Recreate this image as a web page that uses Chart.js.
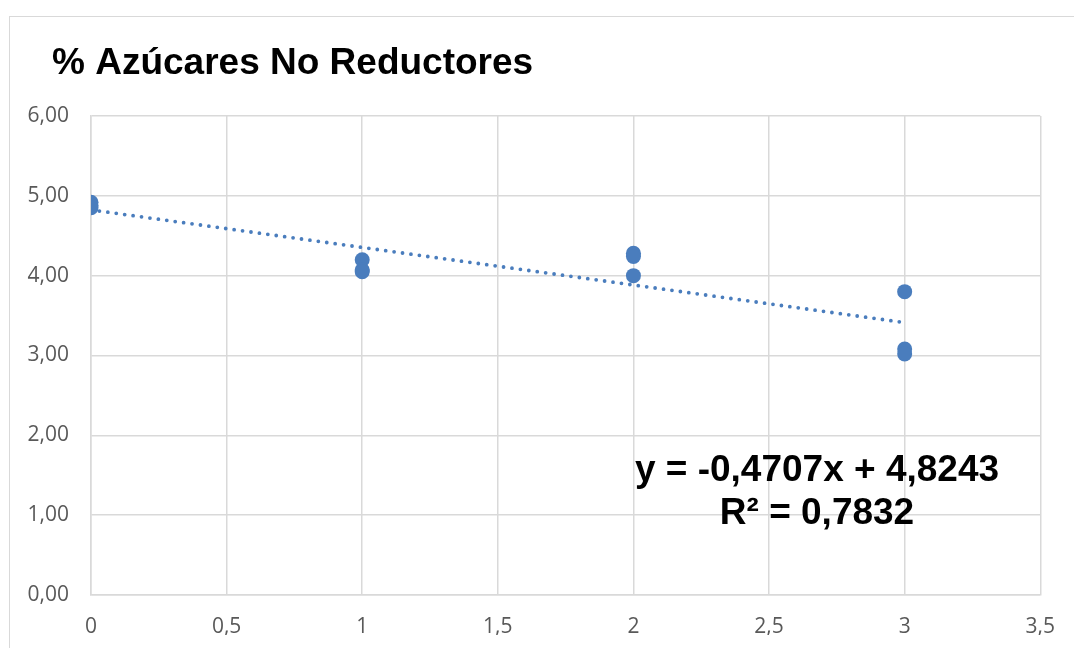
<!DOCTYPE html>
<html>
<head>
<meta charset="utf-8">
<script src="https://cdn.jsdelivr.net/npm/chart.js@4"></script>
<style>
  html, body { margin: 0; padding: 0; background: #fff; overflow: hidden; }
  #frame {
    position: absolute; left: 9px; top: 16px;
    width: 1200px; height: 800px;
    border: 1px solid #d9d9d9;
  }
  #wrap { position: absolute; left: 0; top: 0; width: 1074px; height: 648px; }
</style>
</head>
<body>
<div id="frame"></div>
<div id="wrap"><canvas id="sugarChart"></canvas></div>
<script>
// measured samples (x = time, y = % non-reducing sugars)
const sampleX = [0, 0, 0, 1, 1, 1, 2, 2, 2, 3, 3, 3];
const sampleY = [4.92, 4.88, 4.85, 4.20, 4.07, 4.05, 4.28, 4.24, 4.00, 3.80, 3.08, 3.02];

// linear trendline shown in the chart
const trendSlope = -0.4707;
const trendIntercept = 4.8243;
const trendRange = [0, 3];
const trendLabel = 'y = -0,4707x + 4,8243';
const r2Label = 'R² = 0,7832';

const chartTitle = '% Azúcares No Reductores';
const xMin = 0, xMax = 3.5, xStep = 0.5;
const yMin = 0, yMax = 6, yStep = 1;

const blue = '#4a7dbd';
const gridColor = '#d9d9d9';
const tickColor = '#595959';

const points = sampleX.map((x, i) => ({ x: x, y: sampleY[i] }));
const trendPoints = trendRange.map(x => ({ x: x, y: trendSlope * x + trendIntercept }));

// title and equation text drawn on the canvas
const textPlugin = {
  id: 'textPlugin',
  afterDatasetsDraw(chart) {
    const ctx = chart.ctx;
    ctx.save();
    ctx.fillStyle = '#000';
    ctx.textBaseline = 'alphabetic';
    ctx.textAlign = 'left';
    ctx.font = 'bold 37px "Liberation Sans", Arial, sans-serif';
    ctx.fillText(chartTitle, 52, 74);
    ctx.textAlign = 'center';
    ctx.font = 'bold 37px "Liberation Sans", Arial, sans-serif';
    ctx.fillText(trendLabel, 817, 481);
    ctx.fillText(r2Label, 817, 524);
    ctx.restore();
  }
};

const ctxSugar = document.getElementById('sugarChart');

new Chart(ctxSugar, {
  type: 'scatter',
  data: {
    datasets: [
      {
        label: 'Lineal',
        data: trendPoints,
        showLine: true,
        borderColor: blue,
        borderWidth: 3.8,
        borderDash: [0, 8.5],
        borderCapStyle: 'round',
        pointRadius: 0,
        fill: false,
        order: 0
      },
      {
        label: 'Azúcares no reductores',
        data: points,
        backgroundColor: blue,
        borderColor: blue,
        borderWidth: 0,
        pointRadius: 7.5,
        pointHoverRadius: 7.5,
        order: 1
      }
    ]
  },
  options: {
    responsive: true,
    maintainAspectRatio: false,
    animation: false,
    events: [],
    layout: {
      padding: { left: 0, right: 32, top: 116, bottom: 13 }
    },
    plugins: {
      legend: { display: false },
      title: { display: false },
      tooltip: { enabled: false }
    },
    scales: {
      x: {
        type: 'linear',
        min: xMin,
        max: xMax,
        afterFit: (scale) => { scale.height = 40; },
        ticks: {
          stepSize: xStep,
          color: tickColor,
          padding: 19,
          font: { family: '"Open Sans"', size: 21 },
          callback: (v) => String(v).replace('.', ',')
        },
        grid: { color: gridColor, lineWidth: 1.5, drawTicks: false },
        border: { color: gridColor, width: 1.5 }
      },
      y: {
        type: 'linear',
        min: yMin,
        max: yMax,
        afterFit: (scale) => { scale.width = 91; },
        ticks: {
          stepSize: yStep,
          color: tickColor,
          padding: 22,
          font: { family: '"Open Sans"', size: 21 },
          callback: (v) => v.toFixed(2).replace('.', ',')
        },
        grid: { color: gridColor, lineWidth: 1.5, drawTicks: false },
        border: { color: gridColor, width: 1.5 }
      }
    }
  },
  plugins: [textPlugin]
});
</script>
</body>
</html>
